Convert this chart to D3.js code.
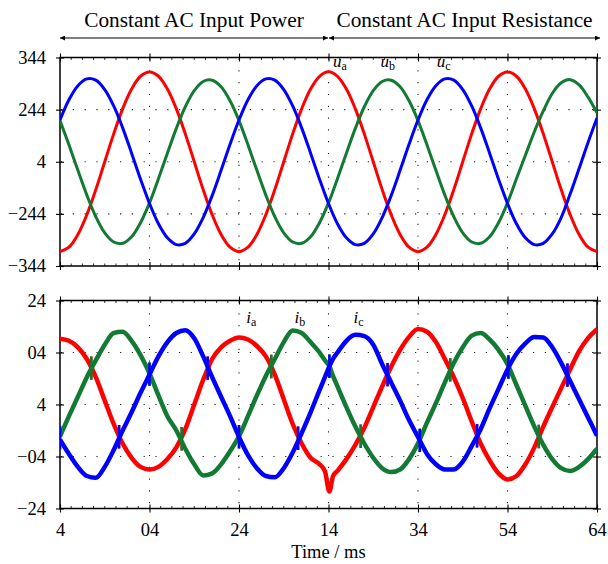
<!DOCTYPE html>
<html>
<head>
<meta charset="utf-8">
<script src="https://cdn.jsdelivr.net/npm/d3@7"></script>
<style>
  html, body { margin: 0; padding: 0; background: #fff; }
  svg { display: block; }
  text { font-family: "Liberation Serif", "Times New Roman", serif; fill: #000; }
</style>
</head>
<body>
<svg id="chart" width="608" height="564"></svg>
<script>
// ---------------- DATA ----------------
const regionTitles = ["Constant AC Input Power", "Constant AC Input Resistance"];
const regionBounds = [0, 30, 60];

const xTicks = [0, 10, 20, 30, 40, 50, 60];
const xTickLabels = ["4", "04", "24", "14", "34", "54", "64"];
const xLabel = "Time / ms";

const vTicks = [-400, -200, 0, 200, 400];
const vTickLabels = ["\u2212344", "\u2212244", "4", "244", "344"];
const iTicks = [-40, -20, 0, 20, 40];
const iTickLabels = ["\u221224", "\u221204", "4", "04", "24"];

// voltage samples, 1 ms apart, t = 0..60
const tV = d3.range(0, 61, 1);
const uA = [-345,-328,-279,-203,-107,0,107,203,279,328,344,328,279,203,107,0,-107,-203,-279,-328,
            -345,-328,-279,-203,-107,0,107,203,279,328,345,328,279,203,107,0,-107,-203,-279,-328,
            -345,-328,-279,-203,-107,0,107,203,279,328,344,328,279,203,107,0,-107,-203,-279,-328,-345];
const uB = [158,65,-33,-128,-211,-273,-308,-313,-288,-234,-158,-65,33,128,211,273,308,313,288,234,
            158,65,-33,-128,-211,-273,-308,-313,-288,-234,-158,-65,33,128,211,273,308,313,288,234,
            158,65,-33,-128,-211,-273,-308,-313,-288,-234,-158,-65,25,115,195,262,303,315,295,248,188];
const uC = [160,238,292,318,313,277,214,130,33,-67,-160,-238,-292,-318,-313,-277,-214,-130,-33,67,
            160,238,292,318,313,277,214,130,33,-67,-160,-238,-292,-318,-313,-277,-214,-130,-33,67,
            160,238,292,318,313,277,214,130,33,-67,-160,-238,-292,-318,-313,-277,-214,-124,-26,74,168];

// current samples
const tI = [0,1,2,3,4,5,6,7,8,9,10,11,12,13,14,15,16,17,18,19,20,21,22,23,24,25,26,27,28,29,
            29.6,30.1,30.5,
            31,32,33,34,35,36,37,38,39,40,41,42,43,44,45,46,47,48,49,50,51,52,53,54,55,56,57,58,59,60];
const iA = [25.3,24.5,22,17.5,10.5,1.5,-7.5,-15,-20.5,-24,-25,-24,-21,-16.5,-9.5,0,9.5,17.5,22,24.5,
            25.8,25,22.5,18.5,11.5,2,-7.5,-15,-20.5,-23,
            -25.6,-33.5,-27.6,
            -25.5,-21,-15.5,-9,-1,7,14.5,21,26,29,28,24,17.5,10.5,2.5,-6.5,-15,-21.5,-26.5,-28.8,
            -27.5,-23,-16.5,-8.5,-1,6.3,13.5,20.5,25.5,29];
const iB = [-12.2,-4.5,3,10.5,17,23,27.5,28,24.5,19,12,3.5,-4.5,-10,-17,-23,-27.3,-26.5,-23,-18,
            -12.2,-4.5,3.5,11,17.5,24,28.5,27.5,24,20,
            17,14.7,11,
            7,-1,-8.5,-15,-20.5,-24.5,-26,-25,-21,-15,-7,0.5,8.5,16,22,26.5,27.5,25,21,15.5,
            7.5,-0.5,-8.5,-15.5,-21,-24.5,-25.6,-24,-21,-17];
const iC = [-13.5,-19,-24,-27.5,-28.2,-24,-17.5,-10,-3,4.5,11.5,18.5,24,27.5,28.6,25.5,18.5,10.5,3,-4.5,
            -12.5,-19.5,-24.5,-27.5,-28,-24.5,-18.5,-11,-3,5.5,
            10.5,14.7,17.5,
            20,24.5,26.8,26.3,23,15.5,8.5,1.5,-6,-12.5,-19,-23,-25,-25,-22,-16,-9.5,-1.5,6,13.5,
            19.5,23.5,26,25.8,22,16,9,2,-5,-12];

// switching spikes at the phase crossings of the currents
const spikeT = [0,3.5,6.6,10,13.6,16.5,20,23.6,26.6,30.1,33.6,36.6,40.2,43.6,46.6,50.1,53.5,56.7];
const spikeV = [-12.8,14,-12.4,11.7,-13.2,14,-12.4,14.6,-13,14.7,-12.2,11.5,-13.8,13.3,-12,14.4,-12.3,11.3];
const spikePhases = ["bc","ab","ac","bc","ab","ac","bc","ab","ac","bc","ab","ac","bc","ab","ac","bc","ab","ac"];
const spikeHalf = 4.5;

const phaseKeys = ["a", "b", "c"];

// ---------------- DRAWING ----------------
const colors = { a: "#ff0000", b: "#127a32", c: "#0000ff" };
const svg = d3.select("#chart");
const FONT = 18.5;

const x = d3.scaleLinear().domain([0, 60]).range([60, 597]);
const yV = d3.scaleLinear().domain([-400, 400]).range([266, 57.5]);
const yI = d3.scaleLinear().domain([-40, 40]).range([508.5, 300.5]);

function panel(y, yTicks, yLabels, showXLabels) {
  const g = svg.append("g");
  const [y0, y1] = y.range(); // bottom, top
  const [x0, x1] = x.range();

  // dotted grid
  const grid = g.append("g").attr("stroke", "#222").attr("stroke-width", 1.1)
    .attr("stroke-dasharray", "1.2 10.6");
  grid.selectAll("line.gx").data(xTicks.slice(1, -1)).join("line")
    .attr("x1", d => x(d)).attr("x2", d => x(d)).attr("y1", y1 + 1).attr("y2", y0);
  grid.selectAll("line.gy").data(yTicks.slice(1, -1)).join("line")
    .attr("x1", x0 + 1).attr("x2", x1).attr("y1", d => y(d)).attr("y2", d => y(d));

  // frame
  g.append("rect").attr("x", x0).attr("y", y1).attr("width", x1 - x0).attr("height", y0 - y1)
    .attr("fill", "none").attr("stroke", "#000").attr("stroke-width", 1.5);

  // minor x ticks (inward)
  const minor = d3.range(0, 60.001, 1.25).filter(v => v % 10 !== 0);
  g.append("g").selectAll("line").data(minor).join("line")
    .attr("x1", d => x(d)).attr("x2", d => x(d)).attr("y1", y0).attr("y2", y0 - 2.5)
    .attr("stroke", "#000").attr("stroke-width", 0.8);
  g.append("g").selectAll("line").data(minor).join("line")
    .attr("x1", d => x(d)).attr("x2", d => x(d)).attr("y1", y1).attr("y2", y1 + 2.5)
    .attr("stroke", "#000").attr("stroke-width", 0.8);

  // axes
  const bottom = g.append("g").attr("transform", `translate(0,${y0})`)
    .call(d3.axisBottom(x).tickValues(xTicks).tickSize(4).tickPadding(10.5)
      .tickFormat((d, i) => showXLabels ? xTickLabels[i] : ""));
  const top = g.append("g").attr("transform", `translate(0,${y1})`)
    .call(d3.axisTop(x).tickValues(xTicks).tickSize(4).tickFormat(""));
  const left = g.append("g").attr("transform", `translate(${x0},0)`)
    .call(d3.axisLeft(y).tickValues(yTicks).tickSize(4).tickPadding(10)
      .tickFormat((d, i) => yLabels[i]));
  const right = g.append("g").attr("transform", `translate(${x1},0)`)
    .call(d3.axisRight(y).tickValues(yTicks).tickSize(4).tickFormat(""));
  [bottom, top, left, right].forEach(a => {
    a.select(".domain").remove();
    a.selectAll(".tick line").attr("stroke", "#000").attr("stroke-width", 1.1);
    a.selectAll("text").attr("font-size", FONT)
      .attr("font-family", '"Liberation Serif", "Times New Roman", serif').attr("fill", "#000");
  });
  bottom.selectAll(".tick line").attr("y1", -4).attr("y2", 4);
  top.selectAll(".tick line").attr("y1", -4).attr("y2", 4);
  left.selectAll(".tick line").attr("x1", -4).attr("x2", 4);
  right.selectAll(".tick line").attr("x1", -4).attr("x2", 4);
  return g;
}

panel(yV, vTicks, vTickLabels, false);
panel(yI, iTicks, iTickLabels, true);

// clip paths
svg.append("clipPath").attr("id", "clipV").append("rect")
  .attr("x", 60).attr("y", 57.5).attr("width", 537).attr("height", 208.5);
svg.append("clipPath").attr("id", "clipI").append("rect")
  .attr("x", 60).attr("y", 300.5).attr("width", 537).attr("height", 208);

// voltages
const vSeries = { a: uA, b: uB, c: uC };
const gV = svg.append("g").attr("clip-path", "url(#clipV)");
phaseKeys.forEach(k => {
  const line = d3.line().x((d, i) => x(tV[i])).y(d => yV(d)).curve(d3.curveCatmullRom.alpha(0.5));
  gV.append("path").datum(vSeries[k]).attr("d", line)
    .attr("fill", "none").attr("stroke", colors[k]).attr("stroke-width", 3)
    .attr("stroke-linejoin", "round");
});

// currents
const iSeries = { a: iA, b: iB, c: iC };
const gI = svg.append("g").attr("clip-path", "url(#clipI)");
phaseKeys.forEach(k => {
  const line = d3.line().x((d, i) => x(tI[i])).y(d => yI(d)).curve(d3.curveMonotoneX);
  gI.append("path").datum(iSeries[k]).attr("d", line)
    .attr("fill", "none").attr("stroke", colors[k]).attr("stroke-width", 4.5)
    .attr("stroke-linejoin", "round");
  const idx = spikeT.map((t, i) => i).filter(i => spikePhases[i].includes(k));
  gI.append("g").selectAll("line").data(idx).join("line")
    .attr("x1", i => x(spikeT[i])).attr("x2", i => x(spikeT[i]))
    .attr("y1", i => yI(spikeV[i] - spikeHalf)).attr("y2", i => yI(spikeV[i] + spikeHalf))
    .attr("stroke", colors[k]).attr("stroke-width", 2.5);
});

// phase labels
function phaseLabel(main, sub, t, v, y) {
  const tx = svg.append("text").attr("x", x(t)).attr("y", y(v)).attr("font-size", 17);
  tx.append("tspan").attr("font-style", "italic").text(main);
  tx.append("tspan").attr("font-size", 12).attr("dy", 3).text(sub);
}
phaseLabel("u", "a", 30.5, 362, yV);
phaseLabel("u", "b", 35.8, 362, yV);
phaseLabel("u", "c", 42.1, 362, yV);
phaseLabel("i", "a", 20.8, 31.3, yI);
phaseLabel("i", "b", 26.2, 31.3, yI);
phaseLabel("i", "c", 32.8, 31.3, yI);

// x label
svg.append("text").attr("x", (x(0) + x(60)) / 2).attr("y", 558)
  .attr("text-anchor", "middle").attr("font-size", FONT).text(xLabel);

// region arrows and titles
const defs = svg.append("defs");
defs.append("marker").attr("id", "ah").attr("viewBox", "0 0 10 10")
  .attr("refX", 10).attr("refY", 5).attr("markerWidth", 7).attr("markerHeight", 5)
  .attr("orient", "auto-start-reverse").attr("markerUnits", "userSpaceOnUse")
  .append("path").attr("d", "M0,0 L10,5 L0,10 Z").attr("fill", "#000");

const arrowY = 38;
regionTitles.forEach((title, i) => {
  const xa = x(regionBounds[i]) + (i === 0 ? 0 : 0.5);
  const xb = x(regionBounds[i + 1]) + (i === 0 ? -0.5 : 3);
  svg.append("line").attr("x1", xa).attr("x2", xb).attr("y1", arrowY).attr("y2", arrowY)
    .attr("stroke", "#000").attr("stroke-width", 1.2)
    .attr("marker-start", "url(#ah)").attr("marker-end", "url(#ah)");
  svg.append("text").attr("x", (xa + xb) / 2).attr("y", 27)
    .attr("text-anchor", "middle").attr("font-size", 21.3).text(title);
});
</script>
</body>
</html>
